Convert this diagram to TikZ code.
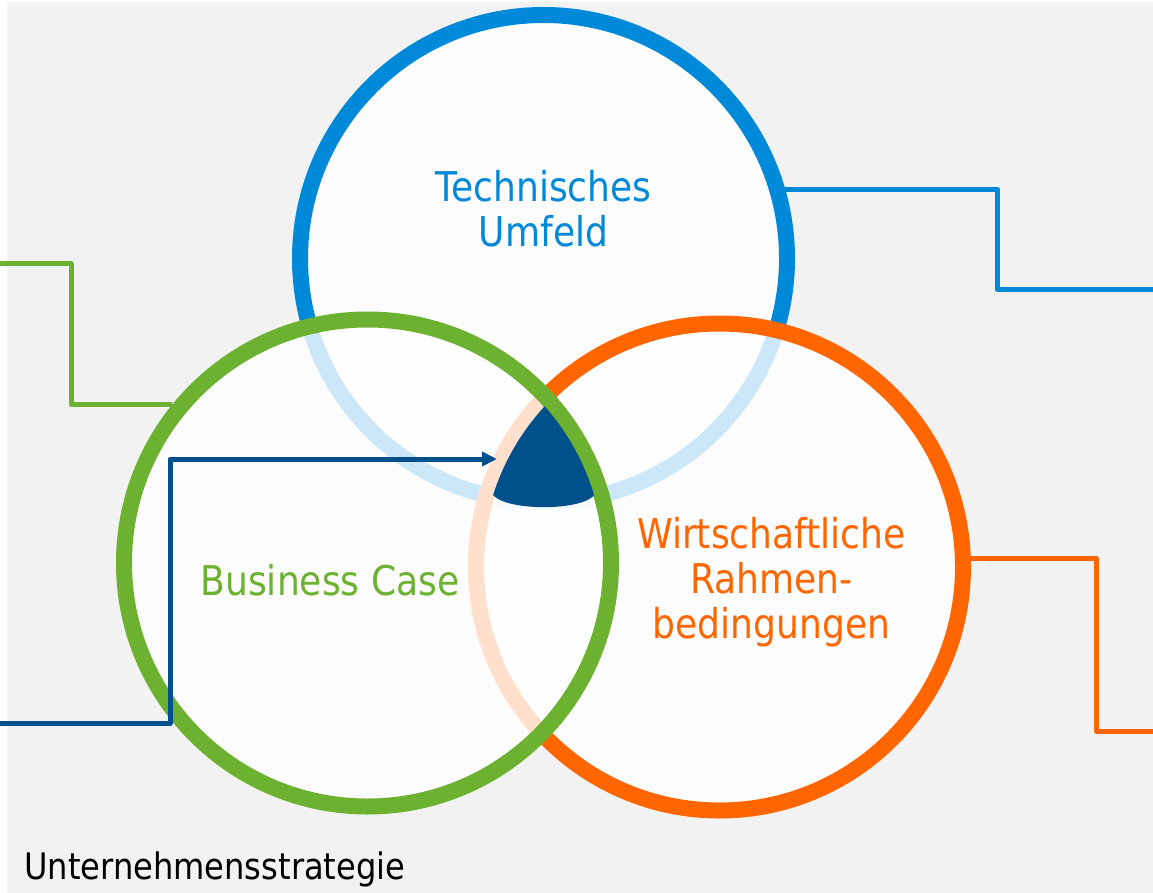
\documentclass[tikz,border=0pt]{standalone}
\usepackage{fontspec}
\setmainfont{DejaVu Sans}[FakeStretch=0.88]
\usetikzlibrary{arrows.meta}
\definecolor{cblue}{HTML}{0089D8}
\definecolor{cgreen}{HTML}{6CB230}
\definecolor{corange}{HTML}{FF6600}
\definecolor{cdark}{HTML}{00508C}
\definecolor{cbg}{HTML}{F2F2F2}
\tikzset{
  ring/.style={circle, draw=#1, line width=16pt, fill=white, fill opacity=0.8, draw opacity=1, inner sep=0pt, minimum size=487pt},
  conn/.style={draw=#1, line width=5pt, line join=round},
  lbl/.style={font=\fontsize{41}{45}\selectfont, align=center, inner sep=0pt},
}
\begin{document}
\begin{tikzpicture}[x=1pt,y=-1pt]
\useasboundingbox (0,0) rectangle (1153,893);
\fill[cbg] (7,2) rectangle (1153,893);
% circles
\node[ring=cblue] (tech) at (543.5,258.5) {};
\node[ring=corange] (wirt) at (719.5,567) {};
\node[ring=cgreen] (biz) at (367.5,563) {};
% core shape
\begin{scope}
  \clip (367.5,563) circle (236.5);
  \clip (719.5,567) circle (237.5);
  \fill[cdark, rounded corners=4pt] (400,380) -- (700,380) -- (700,487) -- (597,489) .. controls (588,512) and (500,512) .. (490,489) -- (400,487) -- cycle;
\end{scope}
\coordinate (core) at (497,459);
% connectors
\coordinate (bTurn) at (997,240);
\coordinate (bEnd) at (1153,289);
\draw[conn=cblue] (tech.16.6) -| (bTurn) |- (bEnd);
\coordinate (oTurn) at (1096,650);
\coordinate (oEnd) at (1153,731);
\draw[conn=corange] (wirt.2.05) -| (oTurn) |- (oEnd);
\coordinate (gStart) at (0,264);
\coordinate (gTurn) at (71,330);
\draw[conn=cgreen] (gStart) -| (gTurn) |- (biz.141.95);
\coordinate (dStart) at (0,723);
\coordinate (dTurn) at (170,600);
\draw[conn=cdark, -{Triangle[length=15pt,width=14pt]}] (dStart) -| (dTurn) |- (core);
% labels
\node[lbl, text=cblue, anchor=base] (techlbl) at (543.5,247) {Technisches\\Umfeld};
\node[lbl, text=cgreen, anchor=base] (bizlbl) at (330,595) {Business Case};
\node[lbl, text=corange, anchor=base] (wirtlbl) at (771.5,638) {Wirtschaftliche\\Rahmen-\\bedingungen};
\node[font=\fontsize{36.5}{40}\selectfont, text=black, anchor=base west, inner sep=0pt] (strat) at (24,879) {Unternehmensstrategie};
\end{tikzpicture}
\end{document}
